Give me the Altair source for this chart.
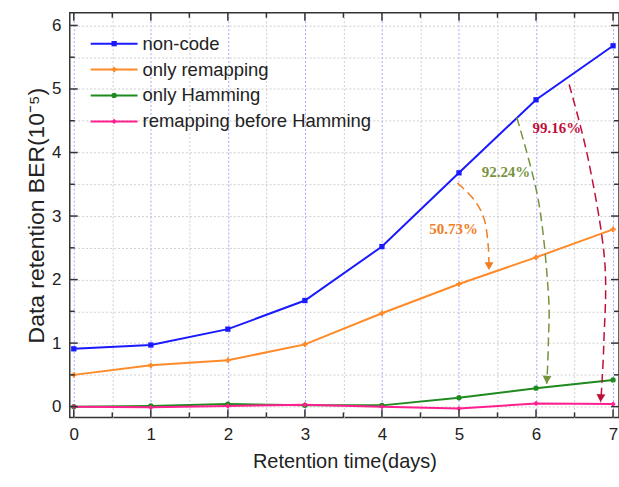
import altair as alt
import pandas as pd

# ---------------- data ----------------
days = [0, 1, 2, 3, 4, 5, 6, 7]
series_names = ["non-code", "only remapping", "only Hamming", "remapping before Hamming"]
non_code = [0.91, 0.97, 1.22, 1.67, 2.52, 3.68, 4.83, 5.68]
only_remapping = [0.50, 0.65, 0.73, 0.98, 1.47, 1.93, 2.35, 2.79]
only_hamming = [0.00, 0.01, 0.04, 0.02, 0.02, 0.14, 0.29, 0.42]
remap_before_hamming = [0.00, -0.01, 0.01, 0.03, 0.00, -0.03, 0.05, 0.04]

series_colors = ["#1a1aff", "#ff8a2a", "#1f8a1f", "#ff2090"]
series_shapes = ["square", "cross", "circle", "diamond"]

x_major = [0, 1, 2, 3, 4, 5, 6, 7]
x_minor = [0.5, 1.5, 2.5, 3.5, 4.5, 5.5, 6.5]
y_major = [0, 1, 2, 3, 4, 5, 6]
y_minor = [0.5, 1.5, 2.5, 3.5, 4.5, 5.5]
x_grid = [0, 0.5, 1, 1.5, 2, 2.5, 3, 3.5, 4, 4.5, 5, 5.5, 6, 6.5, 7]
y_grid = [0, 0.5, 1, 1.5, 2, 2.5, 3, 3.5, 4, 4.5, 5, 5.5, 6]

# annotations
ann_text = ["50.73%", "92.24%", "99.16%"]
ann_x = [4.93, 5.61, 6.27]
ann_y = [2.80, 3.70, 4.39]
ann_color = ["#f07d1e", "#77933c", "#c0103a"]

arrow_x = [
    [4.98, 5.20, 5.33, 5.38, 5.39],
    [5.75, 6.03, 6.16, 6.16, 6.14],
    [6.43, 6.68, 6.89, 6.88, 6.84],
]
arrow_y = [
    [3.52, 3.25, 2.94, 2.52, 2.15],
    [4.55, 3.25, 1.79, 1.00, 0.36],
    [5.07, 3.88, 2.31, 1.00, 0.07],
]
arrow_head_angle = [0, 4, 3]

# ---------------- tables ----------------
rows = []
for name, vals in zip(series_names, [non_code, only_remapping, only_hamming, remap_before_hamming]):
    for d, v in zip(days, vals):
        rows.append({"day": d, "ber": v, "series": name})
df = pd.DataFrame(rows)

arr_rows = []
head_rows = []
for k in range(len(ann_text)):
    for i, (ax, ay) in enumerate(zip(arrow_x[k], arrow_y[k])):
        arr_rows.append({"x": ax, "y": ay, "i": i, "arrow": k, "c": ann_color[k]})
    head_rows.append({"x": arrow_x[k][-1], "y": arrow_y[k][-1], "c": ann_color[k], "a": arrow_head_angle[k]})
arr_df = pd.DataFrame(arr_rows)
head_df = pd.DataFrame(head_rows)
ann_df = pd.DataFrame({"x": ann_x, "y": ann_y, "t": ann_text, "c": ann_color})
leg_df = pd.DataFrame({"series": series_names})

# ---------------- scales & axes ----------------
W, H = 551, 406
xs = alt.Scale(domain=[-0.052, 7.077], nice=False, zero=False)
ys = alt.Scale(domain=[-0.17, 6.2], nice=False, zero=False)

FONT = "Liberation Sans"
x_axis = alt.Axis(
    values=x_grid, grid=True, gridDash=[2, 2], gridWidth=1,
    gridColor={"condition": {"test": "datum.value % 1 === 0", "value": "#a8a8ff"}, "value": "#cfcfcf"},
    ticks=False, domain=False,
    labelExpr="datum.value % 1 === 0 ? format(datum.value, 'd') : ''",
    labelFont=FONT, labelFontSize=17, labelColor="#222", labelPadding=9,
    title="Retention time(days)", titleFont=FONT, titleFontSize=20, titleFontWeight="normal",
    titleColor="#222", titlePadding=9,
)
y_axis = alt.Axis(
    values=y_grid, grid=True, gridDash=[2, 2], gridWidth=1, gridColor="#cfcfcf",
    ticks=False, domain=False,
    labelExpr="datum.value % 1 === 0 ? format(datum.value, 'd') : ''",
    labelFont=FONT, labelFontSize=17, labelColor="#222", labelPadding=9,
    title="Data retention BER(10⁻⁵)", titleFont=FONT, titleFontSize=23, titleFontWeight="normal",
    titleColor="#222", titlePadding=3,
)


def X(field):
    return alt.X(field, type="quantitative", scale=xs, axis=x_axis)


def Y(field):
    return alt.Y(field, type="quantitative", scale=ys, axis=y_axis)


color = alt.Color("series:N", scale=alt.Scale(domain=series_names, range=series_colors), legend=None)
shape = alt.Shape("series:N", scale=alt.Scale(domain=series_names, range=series_shapes), legend=None)

lines = alt.Chart(df).mark_line(strokeWidth=2, clip=True).encode(
    x=X("day"), y=Y("ber"), color=color, detail="series:N"
)
points = alt.Chart(df).mark_point(filled=True, size=28, opacity=1).encode(
    x=X("day"), y=Y("ber"), color=color, shape=shape
)

arrows = alt.Chart(arr_df).mark_line(strokeDash=[9, 5], strokeWidth=1.5, interpolate="cardinal").encode(
    x=X("x"), y=Y("y"), detail="arrow:N", order="i:Q", color=alt.Color("c:N", scale=None)
)
heads = alt.Chart(head_df).mark_point(shape="triangle-down", filled=True, size=80, opacity=1, yOffset=-4).encode(
    x=X("x"), y=Y("y"), angle=alt.Angle("a:Q", scale=None), color=alt.Color("c:N", scale=None)
)
labels = alt.Chart(ann_df).mark_text(
    font="Liberation Serif", fontWeight="bold", fontSize=15, align="center", baseline="middle"
).encode(x=X("x"), y=Y("y"), text="t:N", color=alt.Color("c:N", scale=None))

# inward ticks on all four sides
TC = "#333"


def xticks(vals, length, top):
    d = pd.DataFrame({"v": vals})
    if top:
        enc = dict(y=alt.value(0), y2=alt.value(length))
    else:
        enc = dict(y=alt.value(H), y2=alt.value(H - length))
    return alt.Chart(d).mark_rule(color=TC, strokeWidth=1.5).encode(x=X("v"), **enc)


def yticks(vals, length, right):
    d = pd.DataFrame({"v": vals})
    if right:
        enc = dict(x=alt.value(W), x2=alt.value(W - length))
    else:
        enc = dict(x=alt.value(0), x2=alt.value(length))
    return alt.Chart(d).mark_rule(color=TC, strokeWidth=1.5).encode(y=Y("v"), **enc)


tick_layers = [
    xticks(x_major, 8, False), xticks(x_minor, 5, False),
    xticks(x_major, 8, True), xticks(x_minor, 5, True),
    yticks(y_major, 8, False), yticks(y_minor, 5, False),
    yticks(y_major, 8, True), yticks(y_minor, 5, True),
]

data_layer = alt.layer(lines, points, arrows, heads, labels, *tick_layers)

# legend (top-left, inside)
leg_y = alt.Y("series:N", scale=alt.Scale(type="point", domain=series_names, range=[31, 109], padding=0), axis=None)
leg_line = alt.Chart(leg_df).mark_rule(strokeWidth=2).encode(
    x=alt.value(21), x2=alt.value(68), y=leg_y, color=color
)
leg_pt = alt.Chart(leg_df).mark_point(filled=True, size=28, opacity=1).encode(
    x=alt.value(44.5), y=leg_y, color=color, shape=shape
)
leg_txt = alt.Chart(leg_df).mark_text(
    align="left", baseline="middle", font=FONT, fontSize=18.5, color="#222"
).encode(x=alt.value(73), y=leg_y, text="series:N")
legend_layer = alt.layer(leg_line, leg_pt, leg_txt)

chart = alt.layer(data_layer, legend_layer).resolve_scale(y="independent").properties(
    width=W, height=H,
    autosize=alt.AutoSizeParams(type="none"),
    padding={"left": 70, "top": 12, "right": 0, "bottom": 69},
    background="white",
).configure_view(stroke="#333", strokeWidth=1.5)

chart.save("out.html", embed_options={"renderer": "svg", "actions": False})
